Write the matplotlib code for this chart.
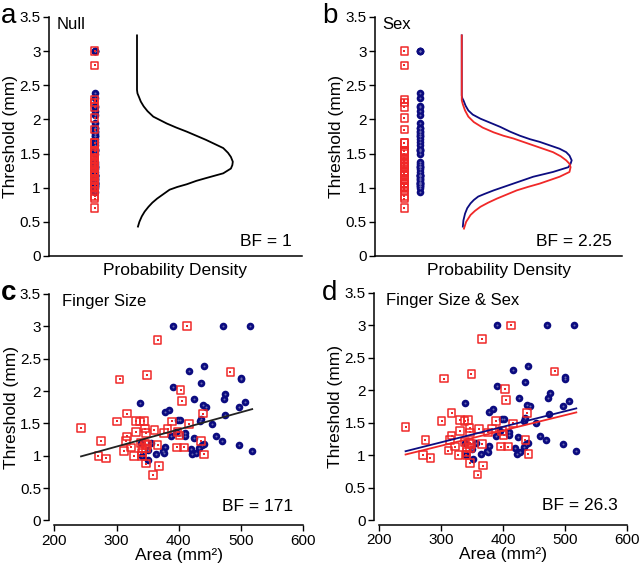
import numpy as np
import matplotlib
matplotlib.use("Agg")
import matplotlib.pyplot as plt

plt.rcParams['font.family'] = ['Liberation Sans', 'DejaVu Sans']

red_area = [243, 275, 271, 283, 305, 349, 366, 413, 483, 403, 405, 317, 301, 331,
            338, 344, 346, 347, 361, 376, 382, 389, 398, 401, 416, 439, 317, 315,
            323, 331, 312, 328, 339, 342, 341, 346, 349, 347, 347, 366, 368, 359,
            397, 408, 436, 441, 341]
red_thresh = [1.43, 1.23, 1.00, 0.96, 2.18, 2.25, 2.79, 3.00, 2.29, 2.02, 1.85, 1.65,
              1.53, 1.54, 1.53, 1.54, 1.42, 1.35, 1.40, 1.35, 1.41, 1.53, 1.37, 1.31,
              1.49, 1.65, 1.30, 1.23, 1.13, 1.37, 1.07, 1.00, 1.20, 1.12, 1.00, 1.19,
              1.17, 1.11, 0.88, 1.17, 0.84, 0.70, 1.13, 1.13, 1.23, 1.02, 1.05]

blue_area = [391, 471, 515, 441, 416, 435, 391, 500, 500, 475, 425, 473, 506, 338,
             496, 439, 444, 384, 378, 474, 399, 402, 436, 434, 453, 395, 410, 410,
             388, 460, 470, 496, 518, 356, 378, 339, 374, 376, 364, 351, 341, 424,
             420, 422, 428, 433, 437, 441, 350]
blue_thresh = [3.00, 3.00, 3.00, 2.38, 2.31, 2.12, 2.06, 2.20, 2.18, 1.95, 1.88, 1.88,
               1.83, 1.81, 1.76, 1.78, 1.76, 1.71, 1.67, 1.63, 1.55, 1.55, 1.57, 1.53,
               1.49, 1.37, 1.35, 1.31, 1.30, 1.30, 1.23, 1.17, 1.07, 1.19, 1.14, 1.19,
               1.07, 1.05, 1.02, 0.94, 1.00, 1.28, 1.11, 1.02, 1.05, 1.12, 1.17, 1.18,
               1.09]

# density curves (threshold level, relative density)
null_y = [3.23, 2.43, 2.38, 2.33, 2.26, 2.19, 2.12, 2.04, 1.94, 1.88, 1.82, 1.76,
          1.70, 1.64, 1.58, 1.51, 1.45, 1.38, 1.33, 1.28, 1.21, 1.14, 1.10, 1.05,
          1.01, 0.97, 0.90, 0.84, 0.78, 0.72, 0.65, 0.58, 0.50, 0.43]
null_d = [0.0, 0.0, 0.005, 0.02, 0.04, 0.07, 0.11, 0.17, 0.31, 0.41, 0.52, 0.62,
          0.72, 0.81, 0.90, 0.95, 0.98, 1.0, 0.995, 0.98, 0.90, 0.72, 0.62, 0.52,
          0.42, 0.34, 0.27, 0.21, 0.16, 0.12, 0.08, 0.05, 0.025, 0.01]
blue_dens_y = [3.23, 2.35, 2.31, 2.28, 2.20, 2.13, 2.07, 2.01, 1.95, 1.89, 1.82,
               1.76, 1.71, 1.67, 1.62, 1.57, 1.52, 1.47, 1.40, 1.35, 1.30, 1.23,
               1.16, 1.11, 1.06, 1.01, 0.96, 0.91, 0.87, 0.82, 0.77, 0.70, 0.62,
               0.52, 0.43]
blue_dens_d = [0.0, 0.0, 0.005, 0.015, 0.035, 0.06, 0.10, 0.17, 0.26, 0.35, 0.44,
               0.53, 0.62, 0.71, 0.80, 0.89, 0.95, 0.98, 1.0, 0.99, 0.97, 0.83,
               0.65, 0.56, 0.47, 0.38, 0.29, 0.21, 0.15, 0.11, 0.08, 0.05, 0.03,
               0.015, 0.01]
red_dens_y = [3.23, 2.28, 2.22, 2.13, 2.04, 1.96, 1.88, 1.81, 1.76, 1.72, 1.67,
              1.62, 1.57, 1.52, 1.46, 1.40, 1.35, 1.30, 1.23, 1.16, 1.11, 1.06,
              1.01, 0.96, 0.90, 0.84, 0.78, 0.72, 0.66, 0.60, 0.50, 0.40]
red_dens_d = [0.0, 0.0, 0.01, 0.03, 0.06, 0.11, 0.19, 0.29, 0.38, 0.47, 0.56,
              0.65, 0.74, 0.83, 0.90, 0.95, 0.98, 0.99, 0.98, 0.89, 0.80, 0.71,
              0.60, 0.50, 0.41, 0.32, 0.24, 0.17, 0.12, 0.08, 0.04, 0.02]

# regression fits (intercept, slope)
fit_c = (0.345, 0.002655)
fit_d_blue = (0.477, 0.0024)
fit_d_red = (0.436, 0.00236)

titles = ["Null", "Sex", "Finger Size", "Finger Size & Sex"]
bf_labels = ["BF = 1", "BF = 2.25", "BF = 171", "BF = 26.3"]

RED = '#f02828'
BLUE = '#0c0c80'
yticks = [0, 0.5, 1, 1.5, 2, 2.5, 3, 3.5]
yticklabels = ['0', '0.5', '1', '1.5', '2', '2.5', '3', '3.5']


def draw_red(ax, x, y):
    ax.scatter(x, y, marker='s', s=30, facecolors='none', edgecolors=RED,
               linewidths=1.1, zorder=4)
    ax.scatter(x, y, marker='s', s=2, color=RED, linewidths=0, zorder=4)


def draw_blue(ax, x, y):
    ax.scatter(x, y, marker='o', s=30, color=BLUE, linewidths=0, zorder=3)
    ax.scatter(x, y, marker='o', s=2, color='#6a6ab0', linewidths=0, zorder=3)


def style(ax, offset):
    for s in ['top', 'right']:
        ax.spines[s].set_visible(False)
    ax.spines['left'].set_position(('outward', offset))
    ax.spines['bottom'].set_position(('outward', offset))
    ax.spines['left'].set_bounds(0, 3.5)
    ax.set_ylim(0, 3.5)
    ax.set_yticks(yticks)
    ax.set_yticklabels(yticklabels)
    ax.tick_params(labelsize=11, length=4, width=1, direction='out', pad=2)
    ax.set_ylabel("Threshold (mm)", fontsize=12.5, labelpad=1)
    for s in ['left', 'bottom']:
        ax.spines[s].set_linewidth(1.1)


fig = plt.figure(figsize=(6.4, 5.65), dpi=100)
ax_a = fig.add_axes([0.0766, 0.547, 0.395, 0.423])
ax_b = fig.add_axes([0.586, 0.547, 0.386, 0.423])
ax_c = fig.add_axes([0.0848, 0.0788, 0.389, 0.401])
ax_d = fig.add_axes([0.592, 0.0796, 0.388, 0.402])

# panel a
style(ax_a, 0)
ax_a.set_xlim(0, 1)
ax_a.set_xticks([])
draw_blue(ax_a, [0.18] * len(blue_thresh), blue_thresh)
draw_red(ax_a, [0.18] * len(red_thresh), red_thresh)
ax_a.plot(0.348 + 0.379 * np.array(null_d), null_y, color='black', lw=1.3)
ax_a.set_xlabel("Probability Density", fontsize=12.5, labelpad=5)

# panel b
style(ax_b, 0)
ax_b.set_xlim(0, 1)
ax_b.set_xticks([])
draw_red(ax_b, [0.119] * len(red_thresh), red_thresh)
draw_blue(ax_b, [0.182] * len(blue_thresh), blue_thresh)
ax_b.plot(0.351 + 0.445 * np.array(blue_dens_d), blue_dens_y, color=BLUE, lw=1.3)
ax_b.plot(0.351 + 0.445 * np.array(red_dens_d), red_dens_y, color=RED, lw=1.3)
ax_b.set_xlabel("Probability Density", fontsize=12.5, labelpad=5)

# panels c and d
for ax in [ax_c, ax_d]:
    style(ax, 3.5)
    ax.set_xlim(200, 600)
    ax.spines['bottom'].set_bounds(200, 600)
    ax.set_xticks([200, 300, 400, 500, 600])
    ax.set_xlabel("Area (mm²)", fontsize=12.5, labelpad=0)
    draw_blue(ax, blue_area, blue_thresh)
    draw_red(ax, red_area, red_thresh)

all_area = red_area + blue_area
xs = np.array([min(all_area), max(all_area)])
ax_c.plot(xs, fit_c[0] + fit_c[1] * xs, color='#222222', lw=1.3, zorder=5)
ax_d.plot(xs, fit_d_blue[0] + fit_d_blue[1] * xs, color=BLUE, lw=1.3, zorder=5)
ax_d.plot(xs, fit_d_red[0] + fit_d_red[1] * xs, color=RED, lw=1.3, zorder=5)

for ax, t, bf in zip([ax_a, ax_b, ax_c, ax_d], titles, bf_labels):
    ax.text(0.03, 1.0, t, transform=ax.transAxes, fontsize=12, va='top', ha='left')
    ax.text(0.96, 0.03, bf, transform=ax.transAxes, fontsize=12.5, va='bottom', ha='right')

fig.text(0.002, 0.995, "a", fontsize=20, va='top', ha='left')
fig.text(0.503, 0.995, "b", fontsize=20, va='top', ha='left')
fig.text(0.002, 0.505, "c", fontsize=20, va='top', ha='left', fontweight='bold')
fig.text(0.503, 0.505, "d", fontsize=20, va='top', ha='left')

fig.savefig("out.png", dpi=100, facecolor='white')
